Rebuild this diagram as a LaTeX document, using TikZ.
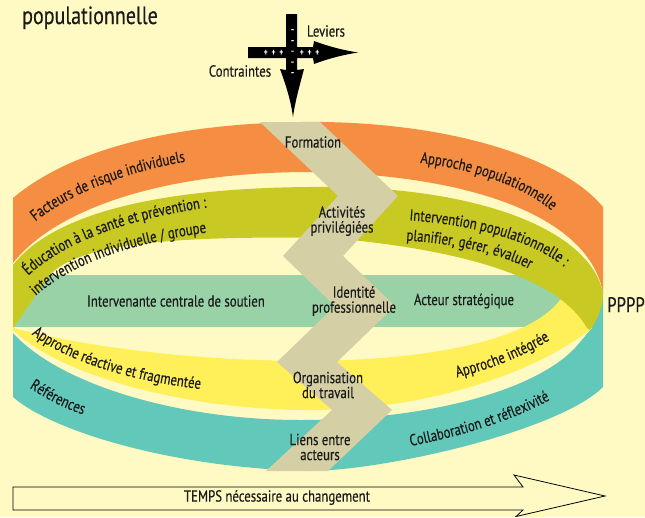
\documentclass[tikz,border=0pt]{standalone}
\usepackage{fontspec}
\setmainfont{PT Sans}[FakeStretch=0.8,FakeBold=0.3]
\usetikzlibrary{decorations.text}
\definecolor{bgc}{HTML}{FFFAC3}
\definecolor{orangeb}{HTML}{F58E42}
\definecolor{oliveb}{HTML}{C8C922}
\definecolor{greenb}{HTML}{98D2A6}
\definecolor{yellowb}{HTML}{FFF05A}
\definecolor{tealb}{HTML}{62C8B9}
\definecolor{beigeb}{HTML}{D4CFA4}
\definecolor{ink}{HTML}{1A1A1A}
\newcommand\lblfont{\fontsize{16}{15}\selectfont}
\tikzset{
  lbl/.style={font=\lblfont, text=ink, inner sep=0pt, align=center},
  curvlbl/.style={decorate, decoration={text along path, text align=center, text color=ink, text={|\lblfont|#1}}},
  whitemark/.style={text=white, font=\fontsize{10}{10}\selectfont, inner sep=0pt},
}
\begin{document}
\begin{tikzpicture}[x=1pt,y=-1pt]
\useasboundingbox (0,0) rectangle (645,517);
\fill[bgc] (0,0) rectangle (645,517);

% orange band
\fill[orangeb] (13,198) .. controls (70,150) and (170,124) .. (300,122) .. controls (440,120) and (560,155) .. (603,207) -- (603,293) .. controls (590,220) and (480,175) .. (310,172) .. controls (160,172) and (55,210) .. (13,263) -- cycle;
% teal band
\fill[tealb] (13,333) .. controls (60,385) and (180,420) .. (300,420) .. controls (430,420) and (535,390) .. (575,348) -- (592,328) -- (603,290) -- (603,387) .. controls (560,430) and (390,470) .. (310,471) .. controls (170,468) and (50,430) .. (13,397) -- cycle;
% green band
\fill[greenb] (13,275) rectangle (575,327);
% yellow band
\fill[yellowb] (13,328) .. controls (80,345) and (180,360) .. (300,361) .. controls (430,361) and (530,340) .. (560,300) -- (575,290) -- (592,328) .. controls (540,370) and (430,412) .. (300,410) .. controls (180,408) and (60,375) .. (13,330) -- cycle;
% olive band
\fill[oliveb] (13,265) .. controls (60,205) and (190,186) .. (330,187) .. controls (480,188) and (590,230) .. (603,293) .. controls (603,305) and (598,320) .. (590,330) -- (587,328) .. controls (560,280) and (470,250) .. (330,238) .. controls (200,236) and (80,240) .. (50,275) -- (13,328) -- cycle;
% zigzag
\fill[beigeb] (260,122) -- (320,122) -- (398,196) -- (343,256) -- (395,306) -- (337,362) -- (392,410) -- (328,471) -- (266,471) -- (332,410) -- (277,362) -- (335,306) -- (283,256) -- (338,196) -- cycle;

% zigzag labels
\node[lbl] (formation) at (313,142) {Formation};
\node[lbl] (activites) at (342,221) {Activités\\privilégiées};
\node[lbl] (identite) at (354,301) {Identité\\professionnelle};
\node[lbl] (organisation) at (328,385) {Organisation\\du travail};
\node[lbl] (liens) at (320,447) {Liens entre\\acteurs};

% green labels
\node[lbl] (intervenante) at (176,301) {Intervenante centrale de soutien};
\node[lbl] (acteur) at (464,301) {Acteur stratégique};

% curved labels
\path[curvlbl={Facteurs de risque individuels}] (21,235) -- (28,228) .. controls (60,198) and (120,172) .. (195,160) -- (205,158.4);
\path[curvlbl={Éducation à la santé et prévention :}] (13.3,291.4) -- (20,284) .. controls (55,245) and (125,218) .. (218,206) -- (228,204.7);
\path[curvlbl={intervention individuelle / groupe}] (20,311) -- (27,304) .. controls (65,265) and (130,242) .. (218,231) -- (228,229.8);
\path[curvlbl={Approche réactive et fragmentée}] (16.5,321.4) -- (24,328) .. controls (60,360) and (130,382) .. (210,390) -- (220,391);
\path[curvlbl={Références}] (17,380) -- (25,385) .. controls (45,398) and (62,408) .. (88,416) -- (97,419);
\path[curvlbl={Approche populationnelle}] (402,161) -- (412,162) .. controls (470,168) and (525,185) .. (558,216) -- (565.3,222.9);
\path[curvlbl={Intervention populationnelle :}] (394,219.4) -- (404,220) .. controls (470,224) and (535,240) .. (568,270) -- (575.4,276.7);
\path[curvlbl={planifier, gérer, évaluer}] (390,239.4) -- (400,240) .. controls (450,243) and (500,252) .. (535,272) -- (543.7,277);
\path[curvlbl={Approche intégrée}] (440.2,381.2) -- (450,379) .. controls (490,370) and (525,356) .. (556,336) -- (564.4,330.6);
\path[curvlbl={Collaboration et réflexivité}] (395.2,448.8) -- (405,447) .. controls (460,437) and (515,420) .. (555,397) -- (563.7,392);

% title and side text
\node[anchor=base west, font=\fontsize{25}{27}\selectfont, text=ink, inner sep=0pt] (title) at (22,24) {populationnelle};
\node[anchor=base west, font=\fontsize{21}{22}\selectfont, text=ink, inner sep=0pt] (pppp) at (607,312) {PPPP};

% cross arrow
\fill[black] (286,14) -- (297,14) -- (297,70) -- (304,69) .. controls (299,88) and (295,102) .. (293,117) .. controls (291,102) and (287,88) .. (280,69) -- (286,70) -- cycle;
\fill[black] (248,47) -- (313,47) -- (314,41) .. controls (330,47) and (345,50.5) .. (358,52.5) .. controls (345,54.5) and (330,58) .. (314,64) -- (313,58) -- (248,58) -- cycle;
\node[whitemark, font=\fontsize{11}{11}\selectfont] (m1) at (292.5,31) {-};
\node[whitemark, font=\fontsize{11}{11}\selectfont] (m2) at (292.5,42) {-};
\node[whitemark, font=\fontsize{11}{11}\selectfont] (m3) at (292.5,52.7) {-};
\node[whitemark, font=\fontsize{11}{11}\selectfont] (m4) at (292.5,63.5) {-};
\node[whitemark, font=\fontsize{11}{11}\selectfont] (m5) at (292.5,74) {-};
\node[whitemark] (pl) at (273.5,52.7) {+\hspace{3.7pt}+\hspace{3.7pt}+};
\node[whitemark] (pr) at (309.5,52.7) {+\hspace{3.7pt}+\hspace{3.7pt}+};
\node[lbl] (leviers) at (326,31) {Leviers};
\node[lbl] (contraintes) at (240,71) {Contraintes};

% time arrow
\draw[line width=0.8pt, fill=bgc, line join=miter] (13,487) -- (523,487) -- (514,475) -- (605,496) -- (516,516.5) -- (523,510) -- (13,510) -- cycle;
\node[lbl] (temps) at (277,497.5) {TEMPS nécessaire au changement};
\end{tikzpicture}
\end{document}
